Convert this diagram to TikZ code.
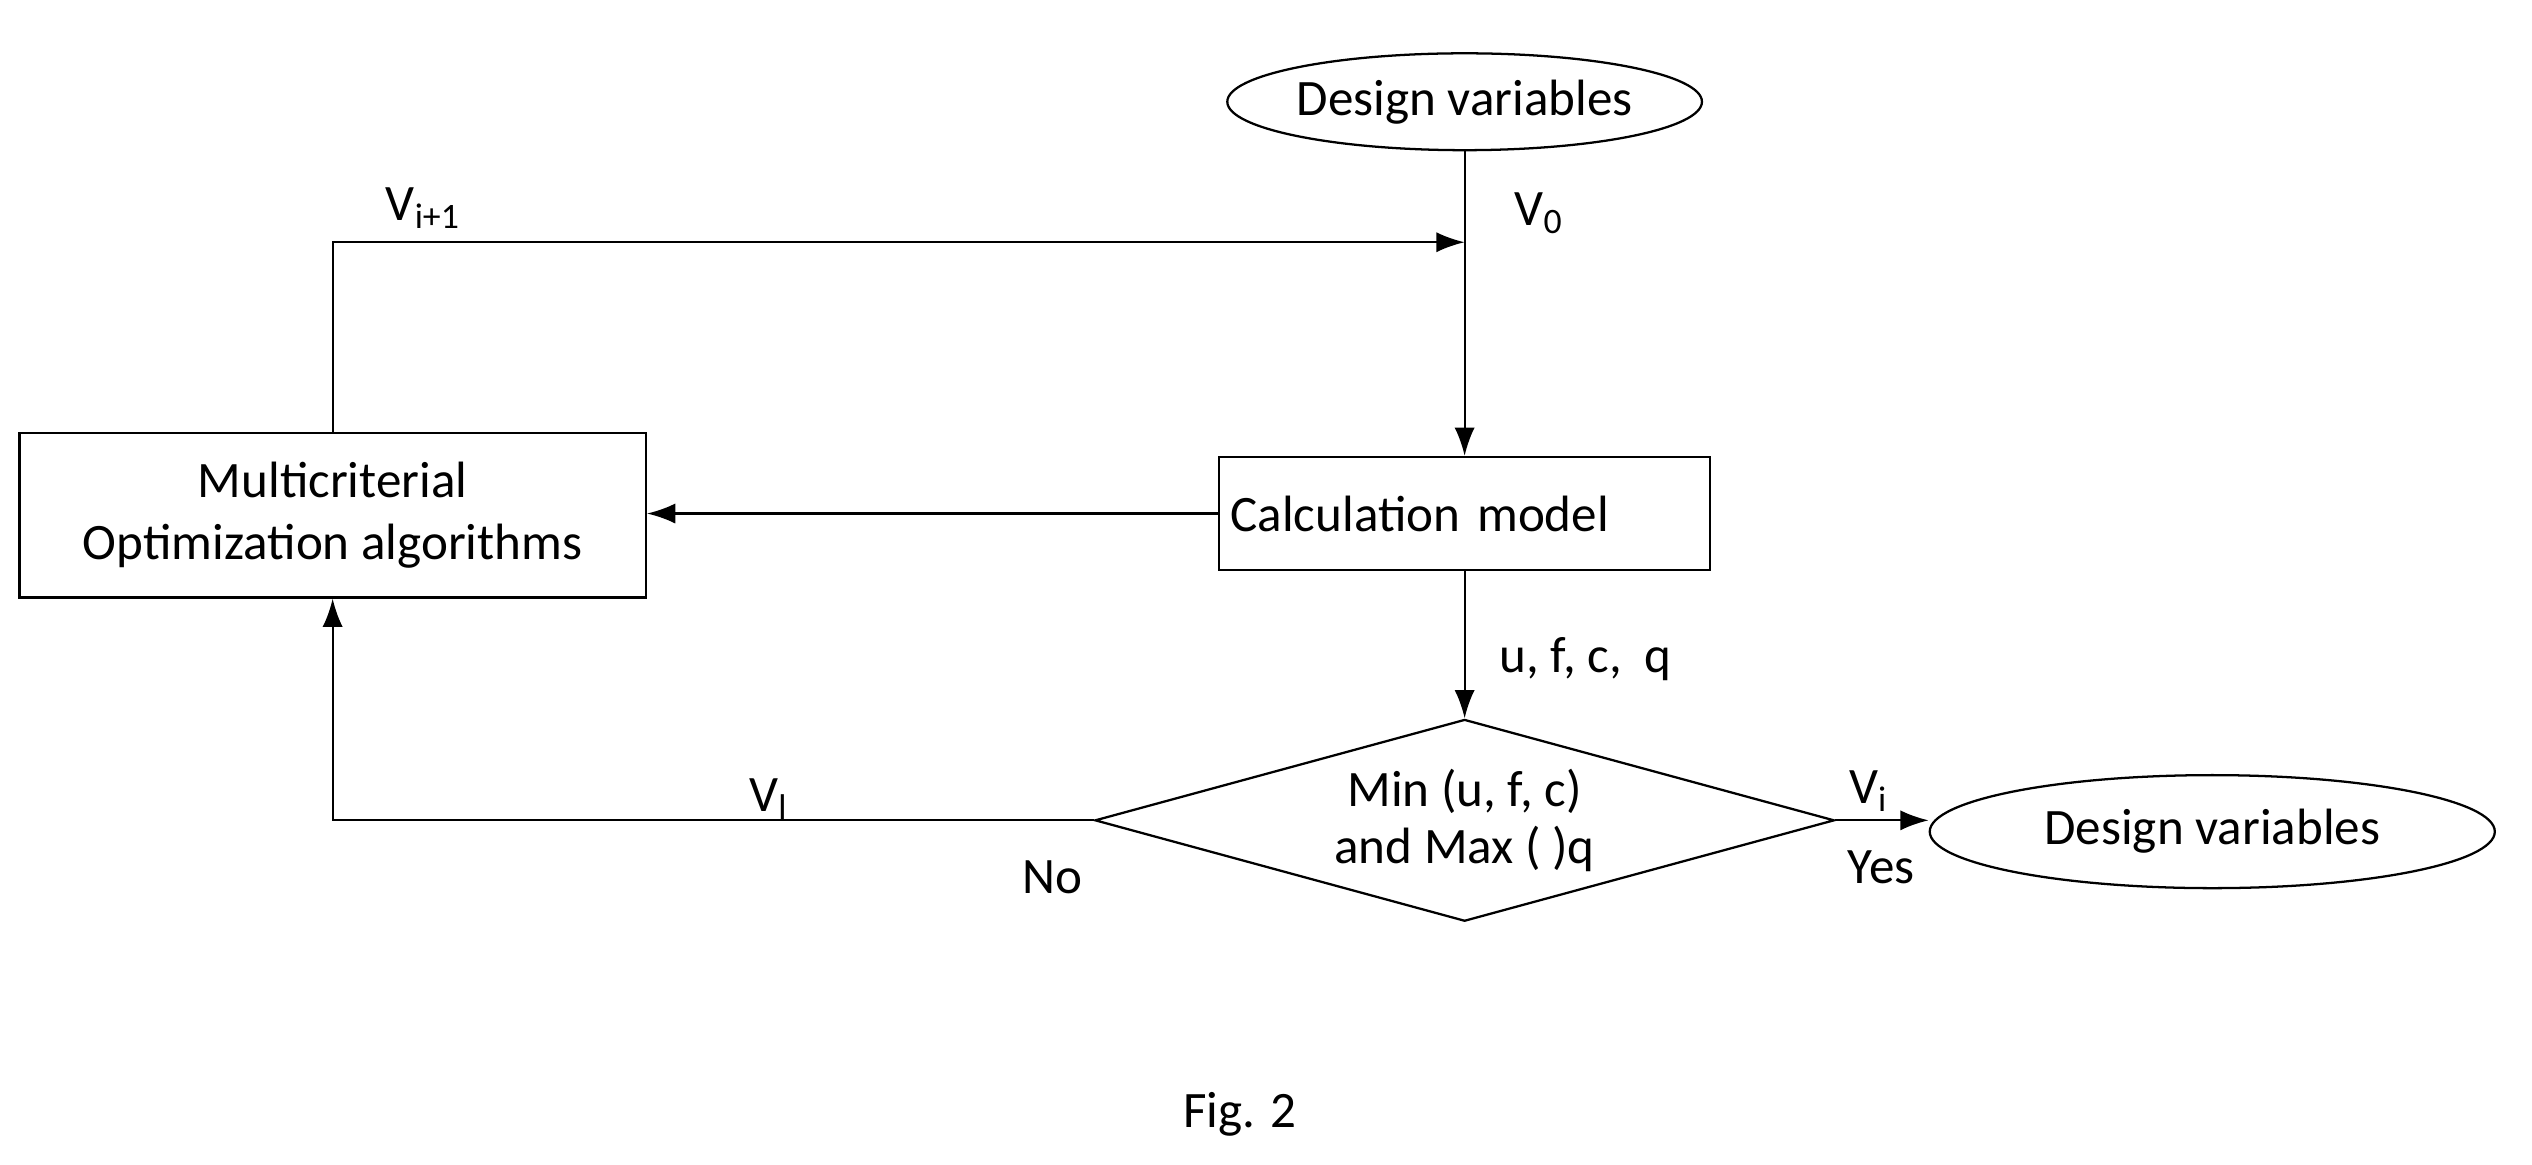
\documentclass[tikz,border=0pt]{standalone}
\usepackage{fontspec}
\setmainfont{Carlito}
\usetikzlibrary{shapes.geometric, arrows.meta, positioning, calc}

\tikzset{
  box/.style={draw, thick, align=center, inner sep=0pt},
  flow/.style={-{Latex[length=3.5mm,width=2.5mm]}, thick},
}

\begin{document}
\begin{tikzpicture}[x=0.02cm, y=-0.02cm, every node/.style={font=\fontsize{18}{22}\selectfont}]
        \useasboundingbox (0,0) rectangle (1568,721);

        % Input
        \node[box, ellipse, minimum width=3.9cm, minimum height=1.2cm] (start) at (907,63) {Design variables};

        % Calculation model
        \node[box, minimum width=6.08cm, minimum height=1.4cm, text width=5.8cm, align=left] (calc) at (907,318) {Calculation model};

        % Optimization
        \node[box, minimum width=7.76cm, minimum height=2.04cm] (opt) at (206,319) {Multicriterial\\Optimization algorithms};

        % Decision
        \node[box, diamond, aspect=3.66, minimum width=9.16cm, minimum height=2.5cm, inner sep=0pt] (check) at (907,508) {};
        \node[align=center] (checktxt) at (907,508) {Min (u, f, c)\\[-2pt]and Max ( )q};

        % Output
        \node[box, ellipse, minimum width=7cm, minimum height=1.4cm] (result) at (1370,515) {Design variables};

        % Fig label
        \node (cap) at (768,690) {Fig. 2};

        % connectors
        \coordinate (join) at (907,150);
        \draw[flow] (start) -- (calc);
        \draw[flow] (opt.north) |- (join);
        \draw[flow] (calc.west) -- (calc.west -| opt.east);
        \draw[flow] (calc) -- (check);
        \draw[flow] (check.west) -| (opt.south);
        \draw[flow] (check.east) -- (result.west |- check.east);

        % labels
        \node at (953,132) {V\textsubscript{0}};
        \node at (262,129) {V\textsubscript{i+1}};
        \node at (982,408) {u, f, c,\ \ q};
        \node at (476,495) {V\textsubscript{l}};
        \node at (652,543) {No};
        \node at (1157,490) {V\textsubscript{i}};
        \node at (1165,537) {Yes};

    \end{tikzpicture}
\end{document}
